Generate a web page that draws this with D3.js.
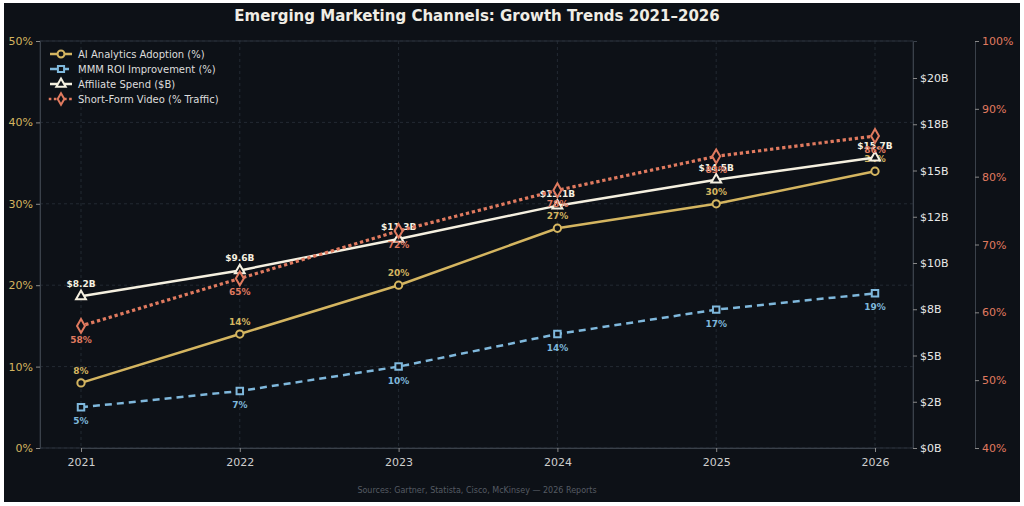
<!DOCTYPE html><html><head><meta charset="utf-8"><script src="https://cdn.jsdelivr.net/npm/d3@7"></script>
<style>body{margin:0;background:#fff}svg{display:block}</style></head><body><svg id="c" width="1024" height="506"></svg>
<script>
const years=[2021,2022,2023,2024,2025,2026];
const aiAdoption=[8,14,20,27,30,34];
const mmmRoi=[5,7,10,14,17,19];
const affiliateSpend=[8.2,9.6,11.3,13.1,14.5,15.7];
const videoTraffic=[58,65,72,78,83,86];
const leftTicks=[0,10,20,30,40,50];
const affTicks=[0,2.5,5,7.5,10,12.5,15,17.5,20];
const vidTicks=[40,50,60,70,80,90,100];

const svg=d3.select("#c"),F="DejaVu Sans";
svg.append("rect").attr("x",4).attr("y",3).attr("width",1016).attr("height",499).attr("fill","#0d1117");
const L=40,R=913,T=41,B=448;
const x=d3.scalePoint().domain(years).range([81,875]);
const yL=d3.scaleLinear().domain([0,50]).range([B,T]);
const yA=d3.scaleLinear().domain([0,22]).range([B,T]);
const yV=d3.scaleLinear().domain([40,100]).range([B,T]);
const g=svg.append("g");
leftTicks.forEach(t=>g.append("line").attr("x1",L).attr("x2",R).attr("y1",yL(t)).attr("y2",yL(t)).attr("stroke","#2a313a").attr("stroke-dasharray","3,3").attr("stroke-width",0.8));
years.forEach(t=>g.append("line").attr("x1",x(t)).attr("x2",x(t)).attr("y1",T).attr("y2",B).attr("stroke","#2a313a").attr("stroke-dasharray","3,3").attr("stroke-width",0.8));
g.append("rect").attr("x",L).attr("y",T).attr("width",R-L).attr("height",B-T).attr("fill","none").attr("stroke","#2a313a");
function styleAxis(a,col){a.selectAll("path").attr("stroke","#3a414a");a.selectAll("line").attr("stroke","#888");a.selectAll("text").attr("fill",col).attr("font-family",F).attr("font-size",11);}
function halfEven(v){const f=Math.floor(v);const d=v-f;if(Math.abs(d-0.5)<1e-9)return f%2===0?f:f+1;return Math.round(v);}
styleAxis(svg.append("g").attr("transform",`translate(${L},0)`).call(d3.axisLeft(yL).tickValues(leftTicks).tickFormat(d=>d+"%").tickSize(4)),"#d4b560");
styleAxis(svg.append("g").attr("transform",`translate(0,${B})`).call(d3.axisBottom(x).tickSize(4).tickPadding(6)),"#cfcfcf");
styleAxis(svg.append("g").attr("transform",`translate(${R},0)`).call(d3.axisRight(yA).tickValues(affTicks).tickFormat(d=>"$"+halfEven(d)+"B").tickSize(4)),"#e8e8e8");
styleAxis(svg.append("g").attr("transform",`translate(975,0)`).call(d3.axisRight(yV).tickValues(vidTicks).tickFormat(d=>d+"%").tickSize(4)),"#e07a5f");

const series=[
 {name:"AI Analytics Adoption (%)",vals:aiAdoption,y:yL,col:"#d4b560",dash:null,sym:"circle",lab:d=>d+"%",pos:-1},
 {name:"MMM ROI Improvement (%)",vals:mmmRoi,y:yL,col:"#7fb8dc",dash:"7,5",sym:"square",lab:d=>d+"%",pos:1},
 {name:"Affiliate Spend ($B)",vals:affiliateSpend,y:yA,col:"#f5f0e0",dash:null,sym:"triangle",lab:d=>"$"+d.toFixed(1)+"B",pos:-1},
 {name:"Short-Form Video (% Traffic)",vals:videoTraffic,y:yV,col:"#e07a5f",dash:"0.1,6",sym:"diamond",lab:d=>d+"%",pos:1}
];
const symT={circle:d3.symbolCircle,square:d3.symbolSquare,triangle:d3.symbolTriangle,diamond:d3.symbolDiamond};
series.forEach(s=>{
 const pts=years.map((yr,i)=>[x(yr),s.y(s.vals[i])]);
 svg.append("path").attr("d",d3.line()(pts)).attr("fill","none").attr("stroke",s.col).attr("stroke-width",s.sym=="diamond"?3.2:2.5).attr("stroke-dasharray",s.dash).attr("stroke-linecap",s.sym=="diamond"?"square":"butt");
 pts.forEach((p,i)=>{
  svg.append("path").attr("d",d3.symbol(symT[s.sym],s.sym=="diamond"?55:42)()).attr("transform",`translate(${p[0]},${p[1]})`).attr("fill","#0d1117").attr("stroke",s.col).attr("stroke-width",2);
  svg.append("text").attr("x",p[0]).attr("y",p[1]+(s.pos<0?-9:17)).attr("text-anchor","middle").attr("font-family",F).attr("font-size",9).attr("font-weight","bold").attr("fill",s.col).text(s.lab(s.vals[i]));
 });
});
series.forEach((s,i)=>{
 const ly=54+i*15;
 svg.append("line").attr("x1",50).attr("x2",72).attr("y1",ly).attr("y2",ly).attr("stroke",s.col).attr("stroke-width",2.5).attr("stroke-dasharray",s.sym=="diamond"?"0.1,5":s.dash).attr("stroke-linecap",s.sym=="diamond"?"square":"butt");
 svg.append("path").attr("d",d3.symbol(symT[s.sym],38)()).attr("transform",`translate(61,${ly})`).attr("fill","#0d1117").attr("stroke",s.col).attr("stroke-width",2);
 svg.append("text").attr("x",78).attr("y",ly+4).attr("font-family",F).attr("font-size",10).attr("fill","#ddd").text(s.name);
});
svg.append("text").attr("x",477).attr("y",21).attr("text-anchor","middle").attr("font-family",F).attr("font-size",15).attr("font-weight","bold").attr("fill","#f0ede5").text("Emerging Marketing Channels: Growth Trends 2021–2026");
svg.append("text").attr("x",477).attr("y",493).attr("text-anchor","middle").attr("font-family",F).attr("font-size",8).attr("fill","#555b63").text("Sources: Gartner, Statista, Cisco, McKinsey — 2026 Reports");
</script></body></html>
